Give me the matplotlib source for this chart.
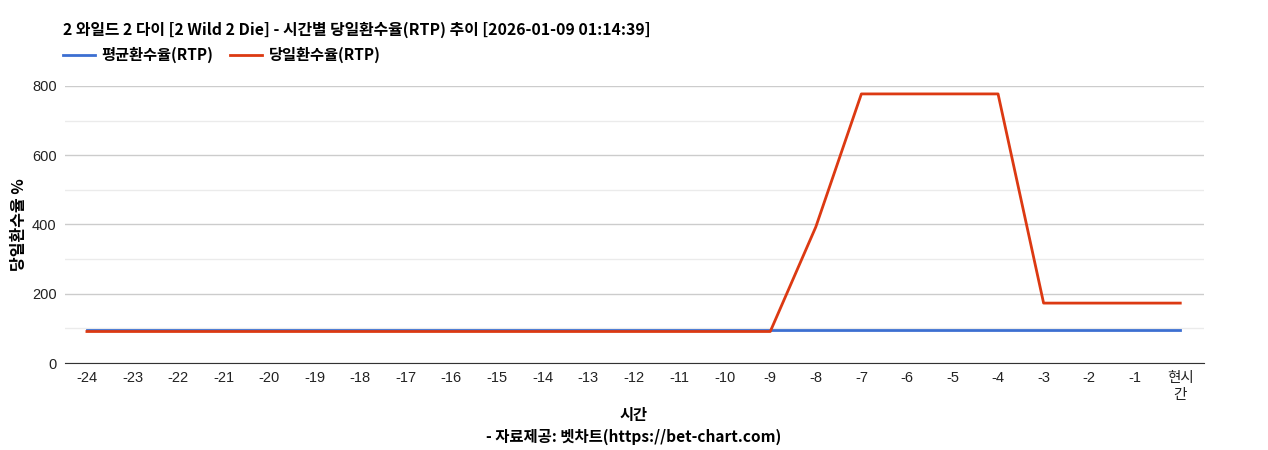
import matplotlib
matplotlib.use('Agg')
import matplotlib.pyplot as plt

plt.rcParams['font.family'] = ['Noto Sans CJK KR', 'DejaVu Sans']

## Data
hours = list(range(-24, 1))
tick_labels = [str(h) for h in range(-24, 0)] + ['현시\n간']
avg_rtp = [96.5] * 25
day_rtp = [91, 91, 91, 91, 91, 91, 91, 91, 91, 91, 91, 91, 91, 91, 91,
           91, 393, 777, 777, 777, 777, 173, 173, 173, 173]

title = '2 와일드 2 다이 [2 Wild 2 Die] - 시간별 당일환수율(RTP) 추이 [2026-01-09 01:14:39]'

fig = plt.figure(figsize=(12.68, 4.5), dpi=100)
ax = fig.add_axes([0.0513, 0.1933, 0.8982, 0.6157])

ax.plot(hours, avg_rtp, color='#3c6fd1', lw=2, label='평균환수율(RTP)', zorder=3)
ax.plot(hours, day_rtp, color='#dc3912', lw=2, label='당일환수율(RTP)', zorder=4)

## Axes
ax.set_xlim(-24.48, 0.52)
ax.set_ylim(0, 800)
ax.set_yticks([0, 200, 400, 600, 800])
ax.set_yticks([100, 300, 500, 700], minor=True)
ax.set_xticks(hours)
ax.set_xticklabels(tick_labels, family=['Liberation Sans', 'Noto Sans CJK KR'], fontsize=10.5, color='#222222')
for t in ax.get_yticklabels():
    t.set_family(['Liberation Sans'])
    t.set_fontsize(10.5)
    t.set_color('#222222')
ax.tick_params(axis='both', length=0, pad=6)
ax.tick_params(axis='y', which='minor', length=0)
ax.grid(axis='y', which='major', color='#cccccc', lw=1)
ax.grid(axis='y', which='minor', color='#ebebeb', lw=1)
for s in ['top', 'right', 'left']:
    ax.spines[s].set_visible(False)
ax.spines['bottom'].set_color('#333333')

## Labels
ax.set_ylabel('당일환수율 %', fontsize=11.5, fontweight='bold', labelpad=4)
fig.text(0.5, 1 - 415/450, '시간', ha='center', va='center', fontsize=11, fontweight='bold')
fig.text(0.5, 1 - 437/450, '- 자료제공: 벳차트(https://bet-chart.com)', ha='center', va='center',
         fontsize=11.1, fontweight='bold')
fig.text(63/1268, 1 - 30/450, title, ha='left', va='center', fontsize=11.4, fontweight='bold')

leg = fig.legend(loc='center left', bbox_to_anchor=(49/1268, 1 - 55/450), ncol=2, frameon=False,
                 prop={'weight': 'bold', 'size': 11}, handlelength=2.1, columnspacing=1.1,
                 handletextpad=0.45)

plt.savefig('out.png', dpi=100)
